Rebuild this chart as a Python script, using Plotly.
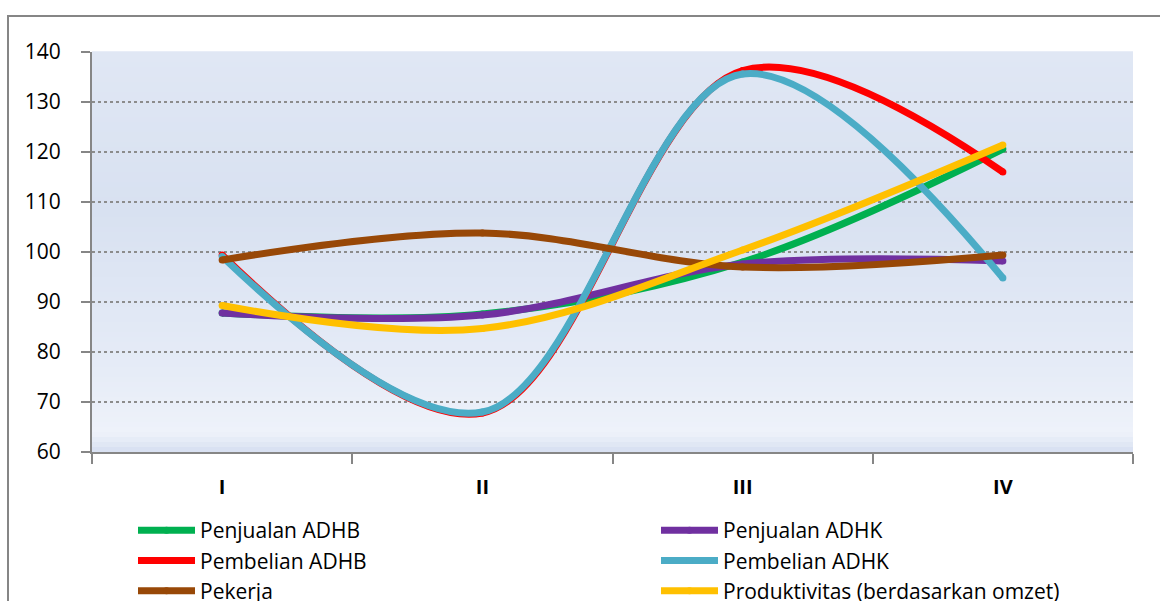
import plotly.graph_objects as go

categories = ["I", "II", "III", "IV"]
penjualan_adhb = [87.8, 87.6, 98.0, 120.6]
penjualan_adhk = [87.8, 87.4, 97.6, 98.2]
pembelian_adhb = [99.4, 67.8, 136.3, 116.0]
pembelian_adhk = [99.1, 68.0, 135.6, 94.8]
pekerja = [98.4, 103.8, 97.0, 99.4]
produktivitas = [89.3, 84.7, 100.4, 121.4]

y_ticks = [60, 70, 80, 90, 100, 110, 120, 130, 140]

series = [
    ("Penjualan ADHB", penjualan_adhb, "#00B050", "legend"),
    ("Penjualan ADHK", penjualan_adhk, "#7030A0", "legend2"),
    ("Pembelian ADHB", pembelian_adhb, "#FF0000", "legend"),
    ("Pembelian ADHK", pembelian_adhk, "#4BACC6", "legend2"),
    ("Pekerja", pekerja, "#984807", "legend"),
    ("Produktivitas (berdasarkan omzet)", produktivitas, "#FFC000", "legend2"),
]

FONT = "Open Sans"
fig = go.Figure()
for name, vals, col, lg in series:
    fig.add_trace(go.Scatter(
        x=categories, y=vals, name=name, mode="lines+markers", legend=lg,
        line=dict(color=col, width=7, shape="spline", smoothing=1.0),
        marker=dict(color=col, size=7, line=dict(width=0)),
    ))

# gradient background for plot area
stops = [
    (0.00, (213, 222, 240)),
    (0.025, (228, 234, 246)),
    (0.05, (238, 242, 250)),
    (0.20, (230, 236, 247)),
    (0.60, (216, 225, 241)),
    (1.00, (224, 231, 244)),
]

def interp(t):
    for (a, ca), (b, cb) in zip(stops[:-1], stops[1:]):
        if a <= t <= b:
            f = (t - a) / (b - a) if b > a else 0
            return tuple(int(round(ca[i] + (cb[i] - ca[i]) * f)) for i in range(3))
    return stops[-1][1]

shapes = []
N = 80
for i in range(N):
    y0 = i / N
    y1 = (i + 1) / N
    c = interp((y0 + y1) / 2)
    shapes.append(dict(type="rect", xref="paper", yref="paper", x0=0, x1=1,
                       y0=y0, y1=y1 + 0.002, line=dict(width=0),
                       fillcolor="rgb(%d,%d,%d)" % c, layer="below"))

W, H = 1160, 601
L, R, T, B = 92, 27, 52, 149
pw = W - L - R
ph = H - T - B
# outer chart border (cropped at right/bottom)
shapes.append(dict(type="rect", xref="paper", yref="paper",
                   x0=(8 - L) / pw, x1=(1200 - L) / pw,
                   y0=(H - B - 700) / ph, y1=(H - B - 16) / ph,
                   line=dict(color="#868686", width=2), fillcolor="rgba(0,0,0,0)",
                   layer="below"))

legend_common = dict(
    orientation="v", xanchor="left", yanchor="top",
    itemwidth=57, font=dict(size=21, family=FONT, color="black"),
    bgcolor="rgba(0,0,0,0)", tracegroupgap=0,
)

fig.update_layout(
    width=W, height=H,
    margin=dict(l=L, r=R, t=T, b=B, autoexpand=False),
    paper_bgcolor="white",
    plot_bgcolor="rgb(220,228,242)",
    shapes=shapes,
    font=dict(family=FONT, color="black"),
    showlegend=True,
    legend=dict(x=(133 - L) / pw, y=(H - B - 510) / ph, **legend_common),
    legend2=dict(x=(656 - L) / pw, y=(H - B - 510) / ph, **legend_common),
    xaxis=dict(
        type="category", range=[-0.5, 3.5],
        showline=True, linecolor="#868686", linewidth=2,
        ticks="outside", tickson="boundaries", ticklen=10, tickwidth=2,
        tickcolor="#868686", showgrid=False,
        tickfont=dict(size=20, family=FONT, color="black", weight="bold"),
        ticklabelstandoff=16,
    ),
    yaxis=dict(
        range=[60, 140], tickvals=y_ticks,
        showline=True, linecolor="#868686", linewidth=2,
        ticks="outside", ticklen=9, tickwidth=2, tickcolor="#868686",
        showgrid=True, gridcolor="#8C8C8C", gridwidth=1.5, griddash="dot",
        zeroline=False,
        tickfont=dict(size=21, family=FONT, color="black"),
        ticklabelstandoff=16,
    ),
)

fig.write_html("out.html")
